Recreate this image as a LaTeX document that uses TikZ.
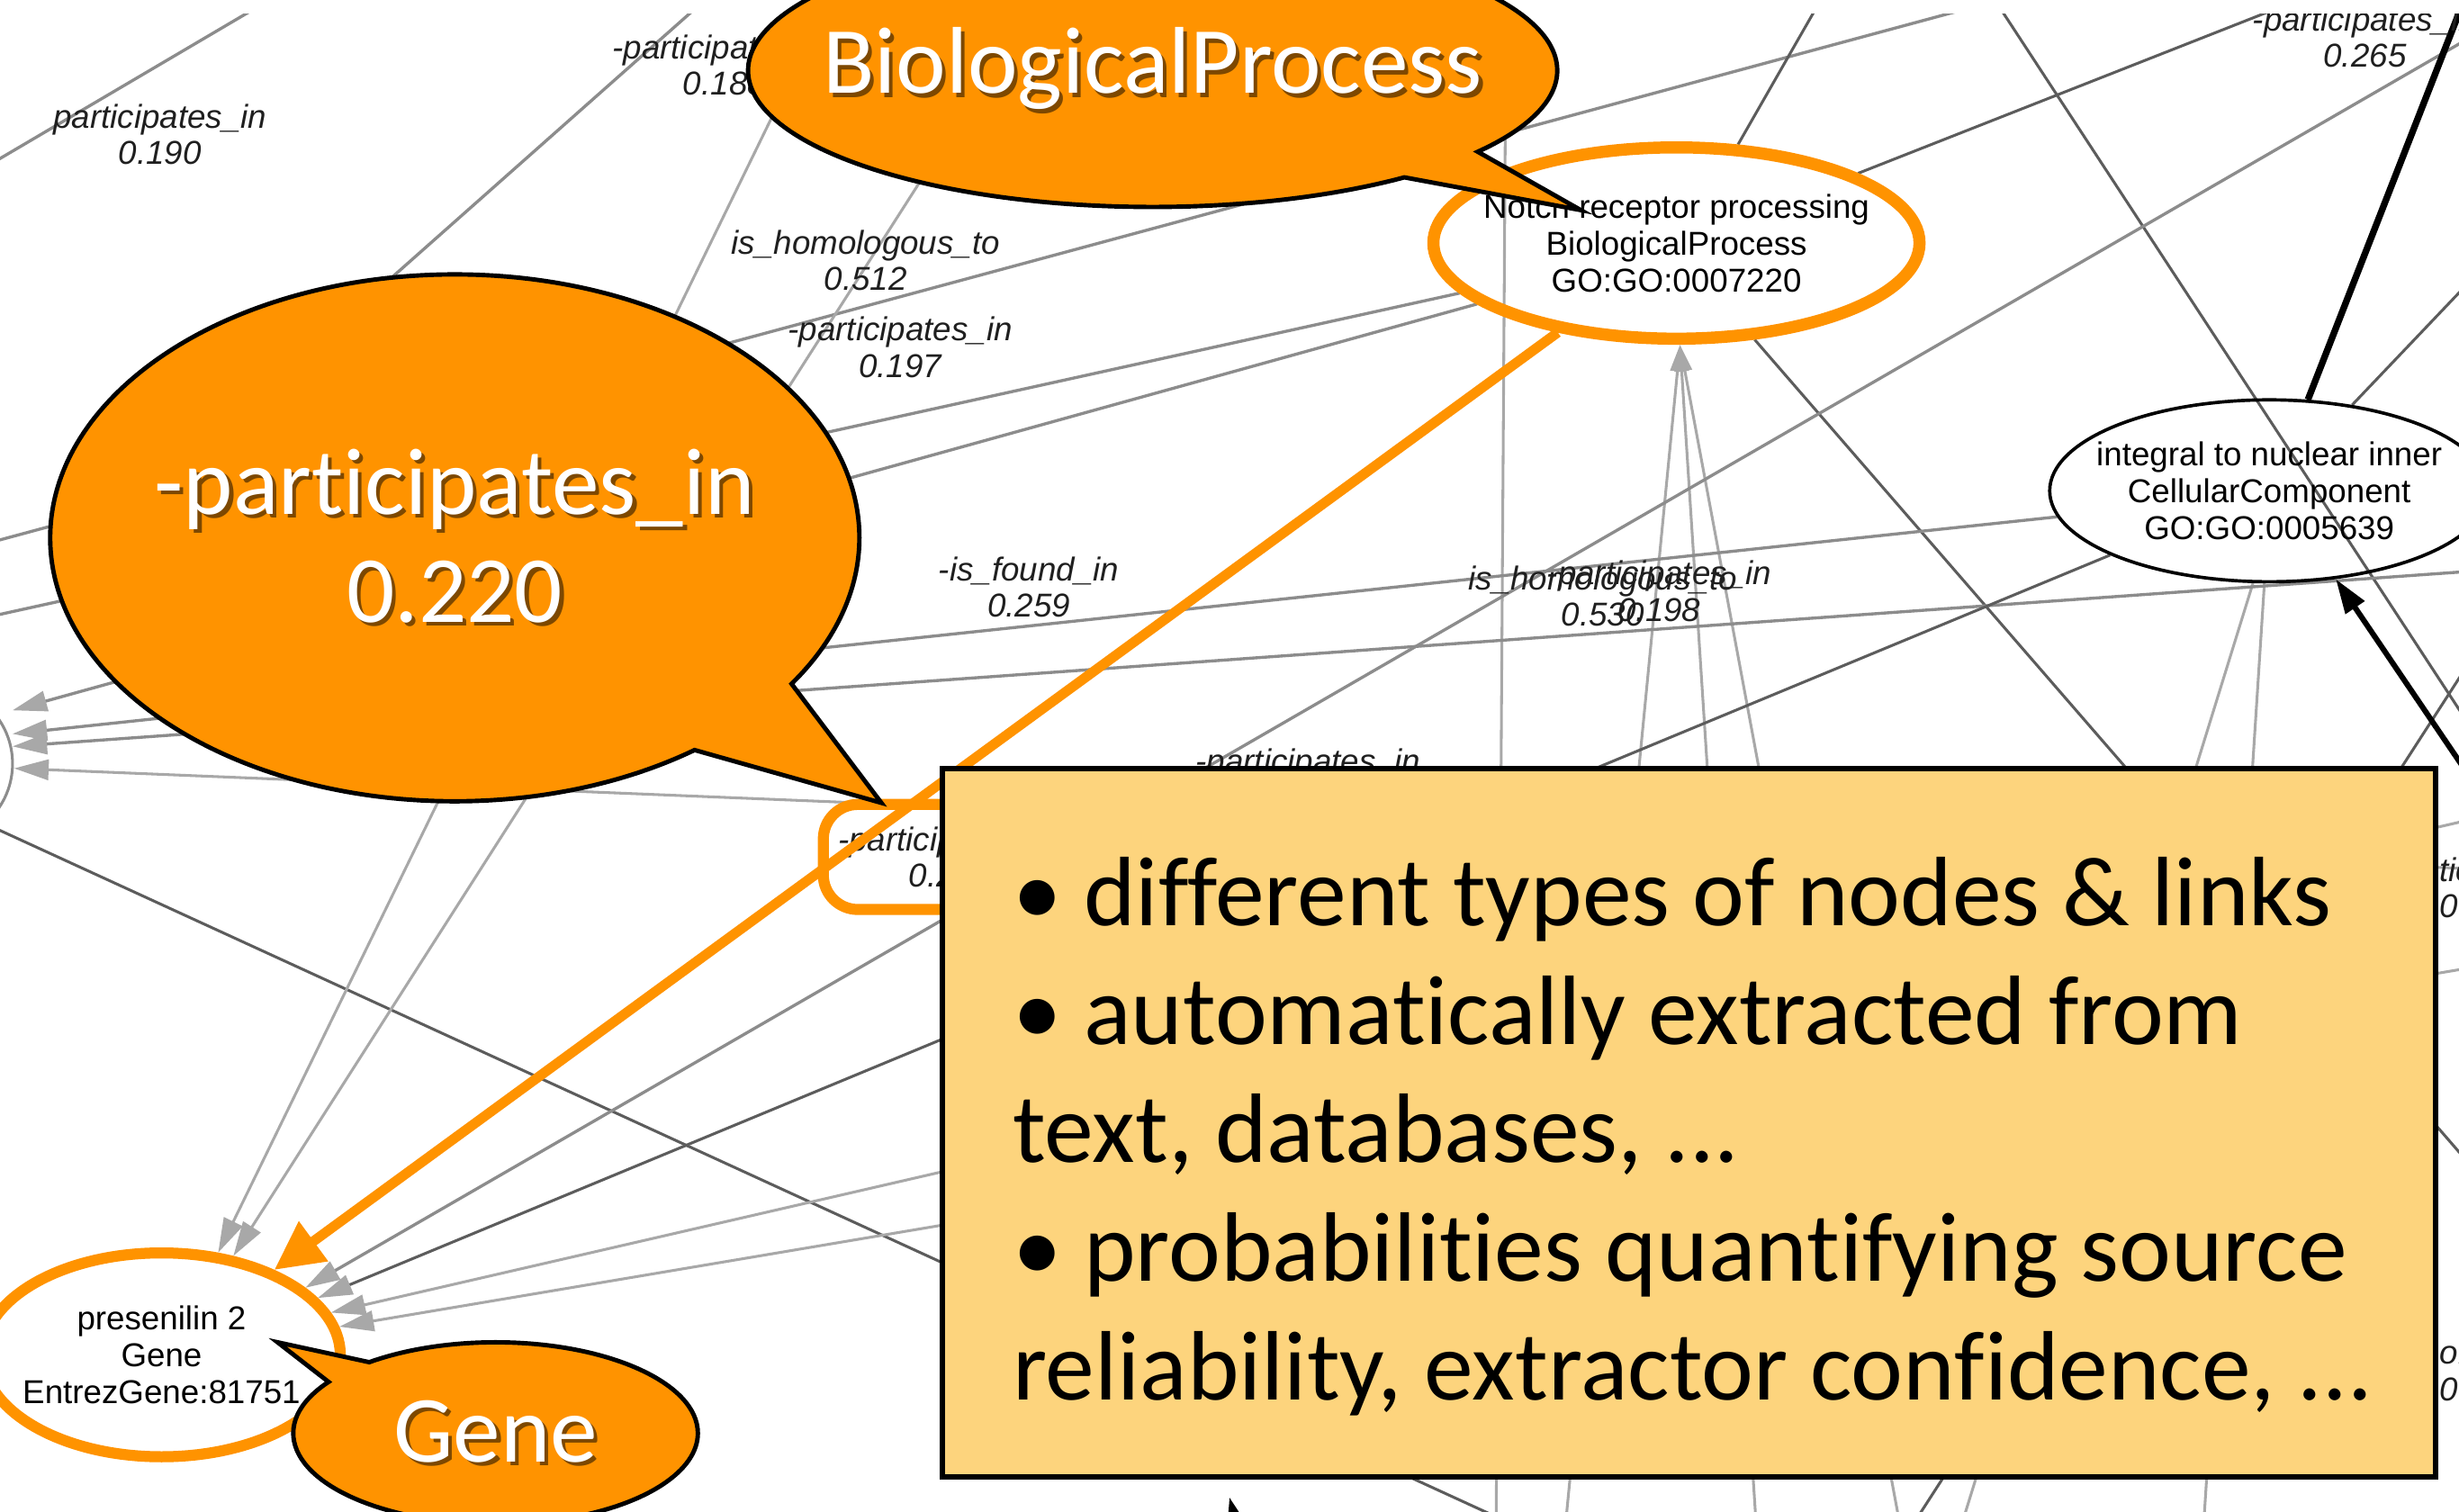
\documentclass[tikz,border=0pt]{standalone}
\usepackage{fontspec}
\usetikzlibrary{shapes.geometric,shapes.callouts,arrows.meta}
\newfontfamily\calloutfont[Ligatures={NoCommon,NoContextual}]{Carlito}
\newfontfamily\graphfont{Liberation Sans}
\definecolor{hiorange}{RGB}{255,147,0}
\definecolor{notefill}{RGB}{253,212,125}
\definecolor{glight}{RGB}{168,168,168}
\definecolor{gmid}{RGB}{140,140,140}
\definecolor{gdark}{RGB}{92,92,92}
\definecolor{shadowtone}{RGB}{125,72,0}
% zero-width centred line, so fixed-size shapes keep their size
\newcommand\ctr[1]{\makebox[0pt]{#1}}
% white callout text with a dark offset shadow underneath
\newcommand\shd[1]{\makebox[0pt]{\rlap{\hspace{0.7pt}\raisebox{-0.7pt}{\color{shadowtone}#1}}#1}}
\pgfdeclarelayer{edgelayer}
\pgfsetlayers{edgelayer,main}
\tikzset{
  lightedge/.style={draw=glight, line width=0.5pt},
  midedge/.style={draw=gmid, line width=0.55pt},
  darkedge/.style={draw=gdark, line width=0.5pt},
  grayhead/.style={-{Triangle[length=2.2mm,width=1.3mm,color=glight]}},
  smallhead/.style={-{Triangle[length=1.7mm,width=0.9mm,color=glight]}},
  nodetext/.style={font=\graphfont\fontsize{6}{6.7}\selectfont, align=center, inner sep=0pt},
  edgetext/.style={font=\graphfont\itshape\fontsize{6}{6.55}\selectfont, align=center, inner sep=0pt, text=black!88},
  ring/.style={ellipse, draw=hiorange, line width=2.2pt, inner sep=0pt},
  callout/.style={ellipse callout, fill=hiorange, draw=black, line width=0.8pt, text=white,
    inner sep=0pt, align=center, font=\calloutfont\fontsize{17.2}{19.6}\selectfont},
}
\begin{document}
\begin{tikzpicture}[x=0.1mm, y=-0.1mm]
\useasboundingbox (0,0) rectangle (1568,964);

% ---------- graph nodes ----------
\node[circle, draw=gmid, line width=0.5pt, minimum size=10mm, inner sep=0pt] (leftnode) at (-42,487) {};
\node[ellipse, draw=black, line width=0.6pt, minimum width=28mm, minimum height=11.6mm, nodetext] (integral) at (1447,313)
  {\ctr{integral to nuclear inner}\\\ctr{CellularComponent}\\\ctr{GO:GO:0005639}};
\node[ring, minimum width=31mm, minimum height=12.2mm, nodetext] (notch) at (1069,155)
  {\ctr{Notch receptor processing}\\\ctr{BiologicalProcess}\\\ctr{GO:GO:0007220}};
\node[ring, fill=white, line width=2pt, minimum width=22.8mm, minimum height=13mm, nodetext] (gene) at (103,864)
  {\ctr{presenilin 2}\\\ctr{Gene}\\\ctr{EntrezGene:81751}};

% ---------- edge labels ----------
\node[edgetext] (lblA) at (102,85.5) {participates\_in\\0.190};
\node[edgetext] (lblB) at (462,41.5) {-participates\_in\\0.188};
\node[edgetext] (lblC) at (552,166) {is\_homologous\_to\\0.512};
\node[edgetext] (lblD) at (574,221.5) {-participates\_in\\0.197};
\node[edgetext] (lblE) at (656,374.5) {-is\_found\_in\\0.259};
\node[edgetext] (lblF) at (1022,380) {is\_homologous\_to\\0.530};
\node[edgetext] (lblG) at (1058,377) {-participates\_in\\0.198};
\node[edgetext] (lblI) at (834,487) {-participates\_in};
\node[edgetext, align=left, anchor=west] (lblJ) at (1555,566) {tic\\0};
\node[edgetext, align=left, anchor=west] (lblK) at (1555,876) {on\\0};
\begin{scope}
  \clip (0,9) rectangle (1568,964);
  \node[edgetext] (lblH) at (1508,23.5) {-participates\_in\\0.265};
\end{scope}

% highlighted edge label
\node[draw=hiorange, fill=white, line width=2pt, rounded corners=2.2mm, minimum width=16.2mm,
  minimum height=6.7mm, edgetext] (hl) at (606,546.5) {-participates\_in\\0.220};

% ---------- free ends of edges leaving the view ----------
\coordinate (e1s) at (515,28);
\coordinate (e2s) at (600,95);
\coordinate (e3s) at (1575,24);
\coordinate (e5s) at (1600,517);
\coordinate (e6s) at (1600,613);
\coordinate (d1a) at (-10,525);
\coordinate (d1b) at (960,970);
\coordinate (lt1) at (8,453);
\coordinate (lt2) at (8,468);
\coordinate (lt3) at (8,476);
\coordinate (lt4) at (9,490);
\coordinate (f1) at (1580,364);
\coordinate (a4s) at (1600,555);
\coordinate (l1a) at (-10,107);
\coordinate (l1b) at (165,4);
\coordinate (l2a) at (445,4);
\coordinate (l2b) at (190,230);
\coordinate (b1) at (1260,4);
\coordinate (b2) at (-10,347);
\coordinate (c2) at (-10,394);
\coordinate (k1e) at (1590,760);
\coordinate (k2a) at (1272,0);
\coordinate (k2b) at (1590,486);
\coordinate (k3e) at (1458,3);
\coordinate (k4e) at (1161,0);
\coordinate (k5e) at (1582,172);
\coordinate (k6a) at (1580,414);
\coordinate (k6b) at (1218,975);
\coordinate (k7a) at (1250,975);
\coordinate (k7b) at (1405,975);
\coordinate (n1) at (998,975);
\coordinate (n2) at (1120,975);
\coordinate (n3) at (1212,975);
\coordinate (v1a) at (960,60);
\coordinate (v1b) at (954,975);
\coordinate (bt) at (1572,-2);
\coordinate (ba) at (1580,503);
\coordinate (bk1) at (793,990);
\coordinate (bk2) at (784,955);

% ---------- edges, below all nodes ----------
\begin{pgfonlayer}{edgelayer}
\fill[white] (0,0) rectangle (1568,964);
\begin{scope}
\clip (0,9) rectangle (1568,964);
% long background links
\draw[midedge] (l1a) -- (l1b);
\draw[midedge] (l2a) -- (l2b);
\draw[midedge] (b1) -- (b2);
\draw[midedge] (notch.193) -- (c2);
\draw[lightedge] (v1a) -- (v1b);
\draw[darkedge] (d1a) -- (d1b);
\draw[darkedge] (notch.-51) -- (k1e);
\draw[darkedge] (k2a) -- (k2b);
\draw[darkedge] (notch.21) -- (k3e);
\draw[darkedge] (notch.58) -- (k4e);
\draw[darkedge] (integral.46) -- (k5e);
\draw[darkedge] (k6a) -- (k6b);
\draw[lightedge] (integral.-100) -- (k7a);
\draw[lightedge] (integral.-93) -- (k7b);
% links into the Notch node
\draw[lightedge, smallhead] (n1) -- (notch.-88);
\draw[lightedge, smallhead] (n2) -- (notch.-88);
\draw[lightedge, smallhead] (n3) -- (notch.-88);
% links into the node on the left
\draw[midedge, grayhead] (notch.197) -- (lt1);
\draw[midedge, grayhead] (integral.187) -- (lt2);
\draw[midedge, grayhead] (f1) -- (lt3);
\draw[lightedge, grayhead] (a4s) -- (lt4);
% links into presenilin 2
\draw[lightedge, grayhead] (e1s) -- (gene.61);
\draw[lightedge, grayhead] (e2s) -- (gene.54);
\draw[midedge, grayhead] (e3s) -- (gene.25);
\draw[darkedge, grayhead] (integral.202) -- (gene.20);
\draw[lightedge, grayhead] (e5s) -- (gene.14);
\draw[lightedge, grayhead] (e6s) -- (gene.9);
% black links
\draw[black, line width=1.2pt] (integral.67) -- (bt);
\draw[black, line width=1pt, -{Triangle[length=2.2mm,width=1.4mm]}] (ba) -- (integral.-53);
\draw[black, line width=0.6pt, -{Triangle[length=2mm,width=1.3mm]}] (bk1) -- (bk2);
\end{scope}
\end{pgfonlayer}

% highlighted link
\draw[hiorange, line width=1.8pt, -{Triangle[length=3.1mm,width=3mm]}] (notch.217) -- (gene.37);

% ---------- callouts ----------
\node[callout, minimum width=51.6mm, minimum height=17.4mm,
  callout absolute pointer={(1008,134)}, callout pointer arc=15] (bpcall) at (735,45)
  {\shd{BiologicalProcess}};
\node[callout, minimum width=51.6mm, minimum height=33.6mm,
  callout absolute pointer={(562,512)}, callout pointer arc=20] (relcall) at (290,343)
  {\shd{-participates\_in}\\\shd{0.220}};
\node[callout, minimum width=25.8mm, minimum height=11.6mm,
  callout absolute pointer={(177,856)}, callout pointer arc=17] (genecall) at (316,914)
  {\shd{Gene}};

% ---------- note box ----------
\node[draw=black, line width=1pt, fill=notefill, minimum width=95.2mm, minimum height=45.2mm,
  inner sep=0pt] (notes) at (1077,716) {};
\node[anchor=north west, inner sep=0pt, align=left,
  font=\calloutfont\fontsize{17.9}{21.5}\selectfont] (notestext) at (645,546)
  {• different types of nodes \& links\\
   • automatically extracted from\\
   text, databases, ...\\
   • probabilities quantifying source\\
   reliability, extractor confidence, ...};
\end{tikzpicture}
\end{document}
